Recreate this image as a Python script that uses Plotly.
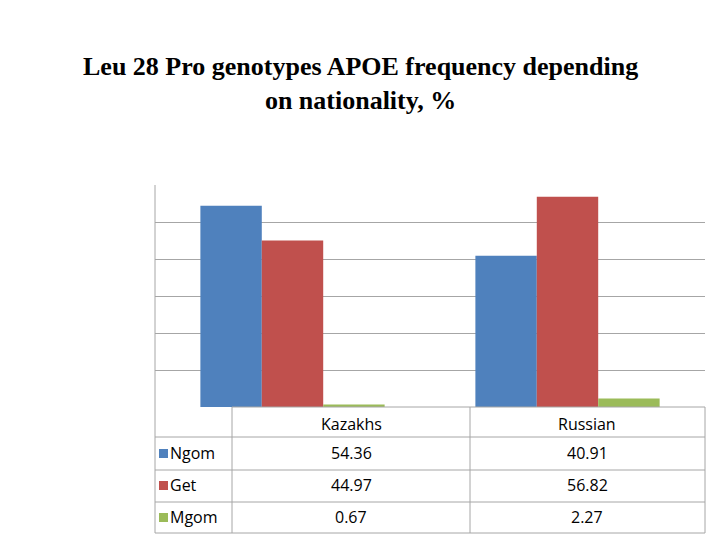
import plotly.graph_objects as go

W, H = 720, 540
categories = ["Kazakhs", "Russian"]
series = ["Ngom", "Get", "Mgom"]
ngom = [54.36, 40.91]
get = [44.97, 56.82]
mgom = [0.67, 2.27]
colors = ["#4F81BD", "#C0504D", "#9BBB59"]
values = [ngom, get, mgom]

# page body has an 8px margin, so shift everything back by 8px
OFF = 8


def px(x):
    return (x - OFF) / W


def py(y):
    return 1 - (y - OFF) / H


fig = go.Figure()
for name, vals, c in zip(series, values, colors):
    fig.add_trace(go.Bar(x=categories, y=vals, name=name, marker_color=c,
                         marker_line_width=0))

line = dict(color="#A6A6A6", width=1)
shapes = []
# table grid
for y in [407, 437, 470, 502, 533]:
    x0 = 232 if y == 407 else 155
    shapes.append(dict(type="line", xref="paper", yref="paper", x0=px(x0), x1=px(705),
                       y0=py(y), y1=py(y), line=line))
for x, ytop in [(155, 185), (232, 407), (470, 407), (705, 407)]:
    shapes.append(dict(type="line", xref="paper", yref="paper", x0=px(x), x1=px(x),
                       y0=py(ytop), y1=py(533), line=line))

annotations = []
font = dict(family="Open Sans, Liberation Sans", size=16, color="#000")
cols_x = [351, 587]
for cx, cat in zip(cols_x, categories):
    annotations.append(dict(x=px(cx), y=py(424), text=cat, showarrow=False,
                            xanchor="center", yanchor="middle",
                            xref="paper", yref="paper", font=font))
rows_y = [453, 485, 517]
for ry, name, vals, c in zip(rows_y, series, values, colors):
    shapes.append(dict(type="rect", xref="paper", yref="paper", x0=px(159), x1=px(168),
                       y0=py(ry - 4), y1=py(ry + 5), fillcolor=c, line_width=0))
    annotations.append(dict(x=px(168), y=py(ry), text=name, showarrow=False,
                            xanchor="left", yanchor="middle",
                            xref="paper", yref="paper", font=font))
    for cx, v in zip(cols_x, vals):
        annotations.append(dict(x=px(cx), y=py(ry), text=f"{v:.2f}", showarrow=False,
                                xanchor="center", yanchor="middle",
                                xref="paper", yref="paper", font=font))

annotations.append(dict(x=px(360), y=py(84), xref="paper", yref="paper", showarrow=False,
                        xanchor="center", yanchor="middle",
                        text="<b>Leu 28 Pro genotypes APOE frequency depending<br>on nationality, %</b>",
                        font=dict(family="Liberation Serif", size=26, color="#000")))

fig.update_layout(
    width=W, height=H, margin=dict(l=0, r=0, t=0, b=0),
    paper_bgcolor="white", plot_bgcolor="white",
    showlegend=False, barmode="group", bargap=0.33, bargroupgap=0,
    xaxis=dict(domain=[px(155), px(705)], showticklabels=False, showline=False),
    yaxis=dict(domain=[py(407), py(185)], range=[0, 60], dtick=10, showticklabels=False,
               gridcolor="#A6A6A6", zeroline=False),
    shapes=shapes, annotations=annotations,
)
fig.write_html("out.html")
